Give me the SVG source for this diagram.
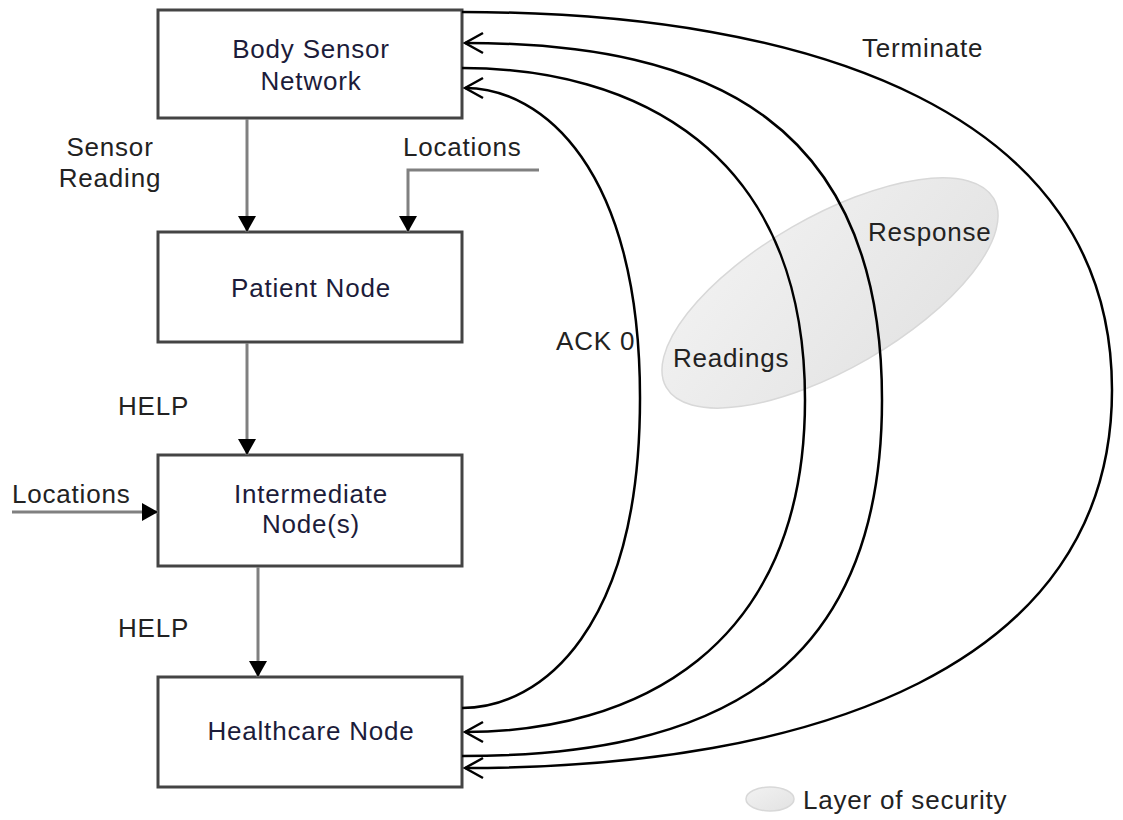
<svg xmlns="http://www.w3.org/2000/svg" width="1123" height="820" viewBox="0 0 1123 820">
<style>
.box{fill:#fff;stroke:#444;stroke-width:3}
.t{font-family:"Liberation Sans",Arial,sans-serif;font-size:26px;letter-spacing:0.8px;fill:#222}
.nl{fill:#1c1c3a;text-anchor:middle}
.flow{fill:none;stroke:#808080;stroke-width:3;marker-end:url(#tri)}
.curve{fill:none;stroke:#000;stroke-width:2.5}
.arr{marker-end:url(#open)}
</style>
<defs>
<marker id="tri" markerUnits="userSpaceOnUse" markerWidth="20" markerHeight="20" viewBox="-17 -10 18 20" refX="0" refY="0" orient="auto">
<path d="M-16,-9 L0,0 L-16,9 Z" fill="#000"/>
</marker>
<marker id="open" markerUnits="userSpaceOnUse" markerWidth="24" markerHeight="26" viewBox="-21 -13 23 26" refX="0" refY="0" orient="auto">
<path d="M-18,-10 L0,0 L-18,10" fill="none" stroke="#000" stroke-width="2.5"/>
</marker>
<linearGradient id="g" x1="0" y1="0" x2="1" y2="1">
<stop offset="0" stop-color="#f2f2f2"/>
<stop offset="1" stop-color="#e2e2e2"/>
</linearGradient>
</defs>

<g id="security-layer">
<ellipse cx="830" cy="293" rx="189" ry="76" transform="rotate(-30 830 293)" fill="url(#g)" stroke="#d8d8d8" stroke-width="1.5"/>
</g>

<g id="bsn"><rect class="box" x="158" y="10" width="304" height="108"/>
<text class="t nl" x="311" y="58">Body Sensor</text><text class="t nl" x="311" y="90">Network</text></g>
<g id="patient"><rect class="box" x="158" y="232" width="304" height="110"/>
<text class="t nl" x="311" y="297">Patient Node</text></g>
<g id="intermediate"><rect class="box" x="158" y="455" width="304" height="111"/>
<text class="t nl" x="311" y="503">Intermediate</text><text class="t nl" x="311" y="533">Node(s)</text></g>
<g id="healthcare"><rect class="box" x="158" y="677" width="304" height="110"/>
<text class="t nl" x="311" y="740">Healthcare Node</text></g>

<g id="connectors">
<line class="flow" x1="247" y1="119" x2="247" y2="232"/>
<polyline class="flow" points="539,170 408,170 408,232"/>
<line class="flow" x1="247" y1="343" x2="247" y2="455"/>
<line class="flow" x1="258" y1="567" x2="258" y2="677"/>
<line class="flow" x1="12" y1="512" x2="158" y2="512"/>
<path class="curve arr" d="M462,708 C542,708 640,628 640,398 C640,168 542,88 465,88"/>
<path class="curve arr" d="M462,68 C632,68 805,148 805,400 C805,652 632,732 465,732"/>
<path class="curve arr" d="M462,756 C712,756 882,676 882,400 C882,123 712,43 465,43"/>
<path class="curve arr" d="M462,12 C812,12 1112,112 1112,390 C1112,668 812,768 465,768"/>
</g>

<g id="labels">
<text class="t" x="110" y="156" text-anchor="middle">Sensor</text>
<text class="t" x="110" y="187" text-anchor="middle">Reading</text>
<text class="t" x="403" y="156">Locations</text>
<text class="t" x="118" y="415">HELP</text>
<text class="t" x="12" y="503">Locations</text>
<text class="t" x="118" y="637">HELP</text>
<text class="t" x="556" y="350">ACK 0</text>
<text class="t" x="673" y="367">Readings</text>
<text class="t" x="868" y="241">Response</text>
<text class="t" x="862" y="57">Terminate</text>
</g>

<g id="legend">
<ellipse cx="770" cy="799" rx="24" ry="12" fill="url(#g)" stroke="#d8d8d8" stroke-width="1.5"/>
<text class="t" x="803" y="809">Layer of security</text>
</g>
</svg>
